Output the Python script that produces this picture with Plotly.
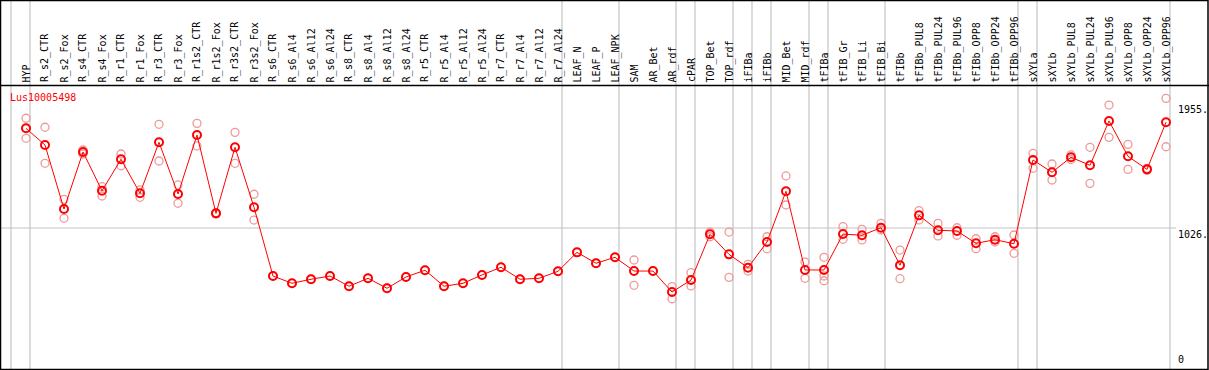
import plotly.graph_objects as go

title = "Lus10005498"

categories = [
    "HYP", "R_s2_CTR", "R_s2_Fox", "R_s4_CTR", "R_s4_Fox", "R_r1_CTR", "R_r1_Fox",
    "R_r3_CTR", "R_r3_Fox", "R_r1s2_CTR", "R_r1s2_Fox", "R_r3s2_CTR", "R_r3s2_Fox",
    "R_s6_CTR", "R_s6_Al4", "R_s6_Al12", "R_s6_Al24", "R_s8_CTR", "R_s8_Al4",
    "R_s8_Al12", "R_s8_Al24", "R_r5_CTR", "R_r5_Al4", "R_r5_Al12", "R_r5_Al24",
    "R_r7_CTR", "R_r7_Al4", "R_r7_Al12", "R_r7_Al24", "LEAF_N", "LEAF_P", "LEAF_NPK",
    "SAM", "AR_Bet", "AR_rdf", "cPAR", "TOP_Bet", "TOP_rdf", "iFIBa", "iFIBb",
    "MID_Bet", "MID_rdf", "tFIBa", "tFIB_Gr", "tFIB_Li", "tFIB_Bi", "tFIBb",
    "tFIBb_PUL8", "tFIBb_PUL24", "tFIBb_PUL96", "tFIBb_OPP8", "tFIBb_OPP24",
    "tFIBb_OPP96", "sXYLa", "sXYLb", "sXYLb_PUL8", "sXYLb_PUL24", "sXYLb_PUL96",
    "sXYLb_OPP8", "sXYLb_OPP24", "sXYLb_OPP96",
]

# group sizes (separators drawn after each group)
group_sizes = [1, 28, 3, 3, 1, 2, 1, 1, 2, 1, 3, 7, 1, 7]

mean_values = [
    1767, 1643, 1167, 1591, 1303, 1537, 1284, 1663, 1279, 1717, 1135, 1626, 1180,
    669, 615, 645, 669, 593, 652, 578, 662, 712, 593, 615, 677, 734, 645, 652, 704,
    845, 764, 808,
    706, 706, 550, 639, 979, 830, 731, 922, 1299, 714, 714, 981, 972, 1028, 749,
    1120, 1009, 1004, 912, 939, 909,
    1532, 1440, 1552, 1492, 1822, 1559, 1462, 1812,
]

replicate_values = [
    [1842, 1767, 1693], [1775, 1507], [1239, 1098], [1606, 1576], [1333, 1264],
    [1576, 1489], [1309, 1254], [1797, 1524], [1346, 1210], [1804, 1636],
    [1140, 1130], [1737, 1507], [1277, 1085],
    [669], [615], [645], [669], [593], [652], [578], [662], [712], [593], [615],
    [677], [734], [645], [652], [704],
    [845], [764], [808],
    [788, 600], [706], [590, 500], [694, 595], [961, 996], [996, 659], [756, 706],
    [961, 872], [1413, 1197], [773, 652], [808, 669, 634], [1036, 942], [1016, 937],
    [1061, 1011], [862, 649],
    [1155, 1086], [1061, 967], [1028, 972], [946, 872], [961, 922], [974, 838],
    [1581, 1470], [1502, 1383], [1569, 1535], [1626, 1358], [1940, 1700],
    [1648, 1462], [1470, 1455], [1990, 1630],
]

axis_tick_values = [1955, 1026, 0]
axis_tick_labels = ["1955.", "1026.", "0"]

FONT = "DejaVu Sans Mono"
W, H = 1209, 370

fig = go.Figure()

rep_x, rep_y = [], []
for cat, reps in zip(categories, replicate_values):
    for r in reps:
        rep_x.append(cat)
        rep_y.append(r)

fig.add_trace(go.Scatter(
    x=rep_x, y=rep_y, mode="markers",
    marker=dict(symbol="circle-open", size=8, color="#ee9999", line=dict(width=1.3, color="#ee9999")),
    hoverinfo="skip", showlegend=False,
))
fig.add_trace(go.Scatter(
    x=categories, y=mean_values, mode="lines+markers",
    line=dict(color="#ff0000", width=1),
    marker=dict(symbol="circle-open", size=8, color="#ff0000", line=dict(width=2, color="#ff0000")),
    showlegend=False,
))

# axis ranges chosen to place category 0 at 26px with 19px spacing, and value 0 at 366px
px_step = 19.0
x0_px = 26.0
xr = [-x0_px / px_step, (W - x0_px) / px_step]
y_scale = 138.0 / 1026.0  # px per unit
yr = [-(H - 366) / y_scale, 366 / y_scale]

shapes = []
# group separators
boundaries = [-1]
c = -1
for g in group_sizes:
    c += g
    boundaries.append(c)
for b in boundaries:
    xv = b + 4.0 / px_step
    shapes.append(dict(type="line", xref="x", yref="paper", x0=xv, x1=xv, y0=0, y1=1,
                       line=dict(color="#c4c4c4", width=1.2), layer="below"))
# horizontal grid at middle tick
shapes.append(dict(type="line", xref="paper", yref="y", x0=0, x1=1176 / W,
                   y0=axis_tick_values[1], y1=axis_tick_values[1],
                   line=dict(color="#c4c4c4", width=1.2), layer="below"))
# frame and header separator
hdr = 1 - 85.5 / H
shapes.append(dict(type="line", xref="paper", yref="paper", x0=0, x1=1, y0=hdr, y1=hdr,
                   line=dict(color="black", width=1.5)))
shapes.append(dict(type="rect", xref="paper", yref="paper", x0=0.5 / W, x1=1 - 1.0 / W,
                   y0=0.5 / H, y1=1 - 0.5 / H, line=dict(color="black", width=1.5)))

annotations = []
for cat in categories:
    annotations.append(dict(x=cat, xref="x", y=1 - 83.5 / H, yref="paper", text=cat,
                            textangle=-90, showarrow=False, xanchor="center", yanchor="bottom",
                            font=dict(family=FONT, size=10, color="black"), borderpad=0))
annotations.append(dict(x=9 / W, xref="paper", y=1 - 97 / H, yref="paper", text=title,
                        showarrow=False, xanchor="left", yanchor="middle",
                        font=dict(family=FONT, size=10, color="#ff0000"), borderpad=0))
for v, lab in zip(axis_tick_values, axis_tick_labels):
    annotations.append(dict(x=1177 / W, xref="paper", y=v, yref="y", text=lab,
                            showarrow=False, xanchor="left",
                            yanchor="bottom" if v == 0 else "top",
                            font=dict(family=FONT, size=10, color="black"), borderpad=0))

fig.update_layout(
    width=W, height=H, autosize=False,
    margin=dict(l=0, r=0, t=0, b=0, pad=0),
    paper_bgcolor="white", plot_bgcolor="white",
    xaxis=dict(range=xr, showgrid=False, zeroline=False, showticklabels=False,
               ticks="", showline=False, type="category", categoryorder="array",
               categoryarray=categories, fixedrange=True),
    yaxis=dict(range=yr, showgrid=False, zeroline=False, showticklabels=False,
               ticks="", showline=False, fixedrange=True),
    shapes=shapes, annotations=annotations,
)

fig.write_html(
    "out.html",
    config={"displayModeBar": False},
    post_script="document.body.style.margin='0';document.body.style.overflow='hidden';",
)
